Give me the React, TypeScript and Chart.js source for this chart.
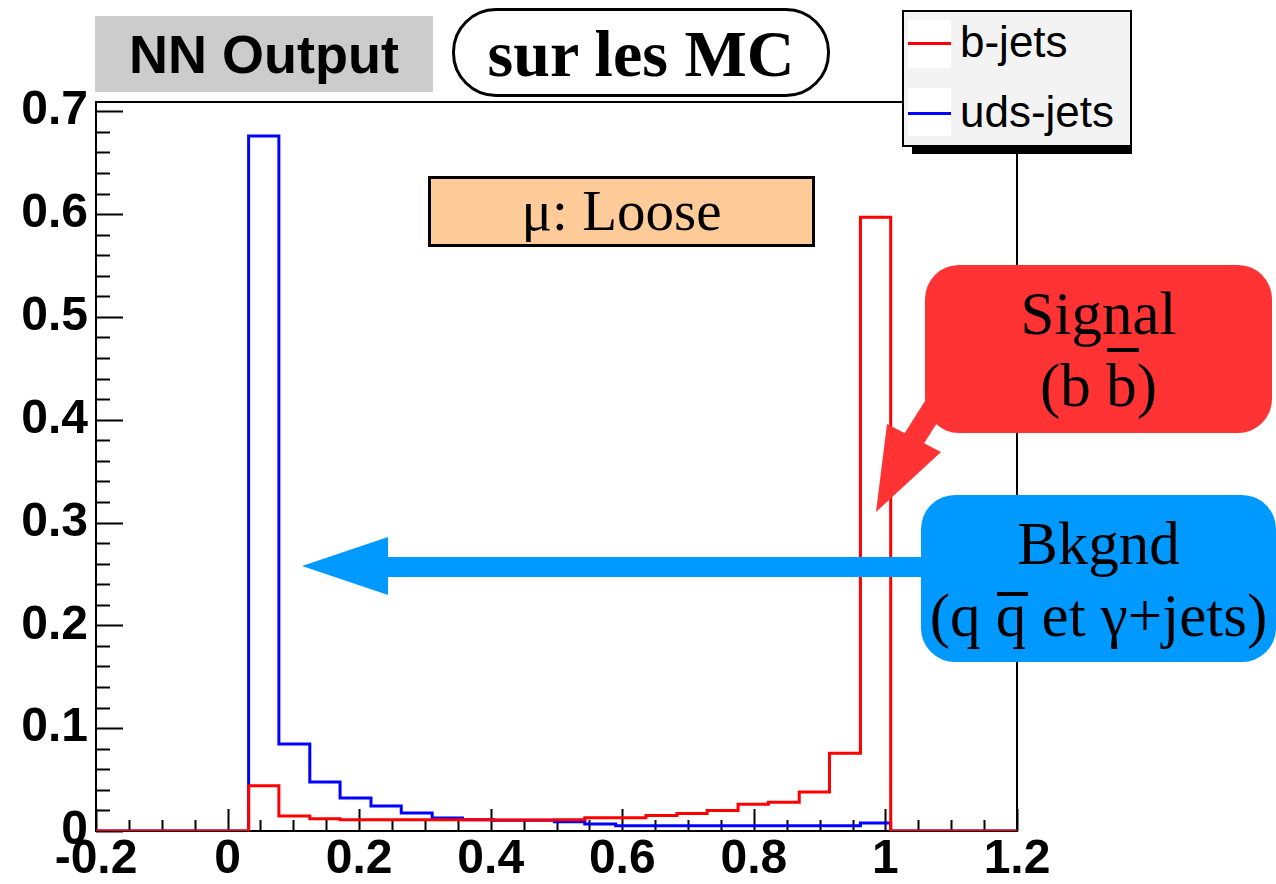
import React, { useEffect, useRef } from 'react';
import { Chart, registerables } from 'chart.js';

Chart.register(...registerables);

// Histogram bin edges (NN output)
const BIN_EDGES = [
  0.032, 0.078, 0.125, 0.171, 0.218, 0.264, 0.311, 0.357, 0.404, 0.45, 0.497,
  0.543, 0.59, 0.636, 0.683, 0.729, 0.776, 0.822, 0.869, 0.915, 0.962, 1.008,
];

// Normalised bin contents
const B_JETS = [
  0.044, 0.0146, 0.012, 0.011, 0.011, 0.011, 0.011, 0.011, 0.0108, 0.0108, 0.011,
  0.013, 0.013, 0.015, 0.017, 0.02, 0.026, 0.028, 0.038, 0.0757, 0.597,
];
const UDS_JETS = [
  0.676, 0.0845, 0.0476, 0.032, 0.0243, 0.0175, 0.0126, 0.011, 0.0105, 0.0105, 0.009,
  0.0068, 0.005, 0.005, 0.005, 0.005, 0.005, 0.005, 0.005, 0.005, 0.0078,
];

const X_MIN = -0.2;
const X_MAX = 1.2;
const Y_MIN = 0;
const Y_MAX = 0.709;

const X_LABELS = [-0.2, 0, 0.2, 0.4, 0.6, 0.8, 1, 1.2];
const Y_LABELS = [0, 0.1, 0.2, 0.3, 0.4, 0.5, 0.6, 0.7];

const X_MINOR_STEP = 0.05;
const Y_MINOR_STEP = 0.02;

const fmt = (v: number) => String(Math.round(v * 10) / 10);

// Step outline: zero up to the first edge, each bin spanning [edge i, edge i+1], back to zero after.
// Points sit on the right edge of each bin; 'before' stepping draws the previous level up to the point.
function stepPoints(values: number[]) {
  const pts: { x: number; y: number }[] = [{ x: X_MIN, y: 0 }, { x: BIN_EDGES[0], y: 0 }];
  values.forEach((v, i) => pts.push({ x: BIN_EDGES[i], y: v }));
  pts.push({ x: BIN_EDGES[BIN_EDGES.length - 1], y: values[values.length - 1] });
  pts.push({ x: BIN_EDGES[BIN_EDGES.length - 1], y: 0 });
  pts.push({ x: X_MAX, y: 0 });
  return pts;
}

// Frame box and inward-pointing ticks, drawn under the histograms.
const frameTicks = {
  id: 'frameTicks',
  beforeDatasetsDraw(chart: any) {
    const { ctx, chartArea: a, scales } = chart;
    const x = scales.x;
    const y = scales.y;
    ctx.save();
    ctx.strokeStyle = '#000';
    ctx.lineWidth = 2;
    ctx.strokeRect(a.left, a.top, a.right - a.left, a.bottom - a.top);

    ctx.beginPath();
    const nx = Math.round((X_MAX - X_MIN) / X_MINOR_STEP);
    for (let i = 0; i <= nx; i++) {
      const v = X_MIN + i * X_MINOR_STEP;
      const px = Math.round(x.getPixelForValue(v)) + 0.5;
      const major = i % 4 === 0;
      ctx.moveTo(px, a.bottom);
      ctx.lineTo(px, a.bottom - (major ? 22 : 11));
    }
    const ny = Math.round((0.7 - Y_MIN) / Y_MINOR_STEP);
    for (let i = 0; i <= ny; i++) {
      const v = Y_MIN + i * Y_MINOR_STEP;
      const py = Math.round(y.getPixelForValue(v)) + 0.5;
      const major = i % 5 === 0;
      ctx.moveTo(a.left, py);
      ctx.lineTo(a.left + (major ? 27 : 14), py);
    }
    ctx.stroke();
    ctx.restore();
  },
};

const SANS = '"Liberation Sans", Arial, Helvetica, sans-serif';
const SERIF = '"Liberation Serif", "Times New Roman", serif';

const abs = (s: React.CSSProperties): React.CSSProperties => ({ position: 'absolute', boxSizing: 'border-box', ...s });

// A letter with a bar over it (antiparticle notation).
function Bar({ children, offset }: { children: React.ReactNode; offset: number }) {
  return (
    <span style={{ position: 'relative' }}>
      {children}
      <span style={{ position: 'absolute', left: 1, right: -2, top: offset, height: 4, background: '#000' }} />
    </span>
  );
}

export default function App() {
  const canvasRef = useRef<HTMLCanvasElement | null>(null);

  useEffect(() => {
    const canvas = canvasRef.current;
    if (!canvas) return;
    const tickFont = { family: SANS, weight: 'bold' as const, size: 48 };
    const chart = new Chart(canvas, {
      type: 'line',
      data: {
        datasets: [
          {
            label: 'b-jets',
            data: stepPoints(B_JETS),
            borderColor: '#ff0000',
            borderWidth: 3,
            stepped: 'before',
            pointRadius: 0,
            fill: false,
            order: 0,
          },
          {
            label: 'uds-jets',
            data: stepPoints(UDS_JETS),
            borderColor: '#0000ff',
            borderWidth: 3,
            stepped: 'before',
            pointRadius: 0,
            fill: false,
            order: 1,
          },
        ],
      },
      options: {
        animation: false,
        responsive: false,
        layout: { padding: { left: 0, top: 102, right: 259, bottom: 0 } },
        plugins: { legend: { display: false }, tooltip: { enabled: false } },
        scales: {
          x: {
            type: 'linear',
            min: X_MIN,
            max: X_MAX,
            afterBuildTicks: (s: any) => {
              s.ticks = X_LABELS.map((v) => ({ value: v }));
            },
            afterFit: (s: any) => {
              s.height = 53;
            },
            ticks: {
              font: tickFont,
              color: '#000',
              padding: 0,
              maxRotation: 0,
              autoSkip: false,
              callback: (v: any) => fmt(Number(v)),
            },
            grid: { display: false, drawTicks: false },
            border: { display: false },
          },
          y: {
            type: 'linear',
            min: Y_MIN,
            max: Y_MAX,
            afterBuildTicks: (s: any) => {
              s.ticks = Y_LABELS.map((v) => ({ value: v }));
            },
            afterFit: (s: any) => {
              s.width = 96;
            },
            ticks: {
              font: tickFont,
              color: '#000',
              padding: 8,
              autoSkip: false,
              callback: (v: any) => fmt(Number(v)),
            },
            grid: { display: false, drawTicks: false },
            border: { display: false },
          },
        },
      },
      plugins: [frameTicks],
    });
    return () => chart.destroy();
  }, []);

  return (
    <div style={abs({ left: 0, top: 0, width: 1276, height: 884, background: '#fff', overflow: 'hidden' })}>
      <canvas ref={canvasRef} width={1276} height={884} style={{ position: 'absolute', left: 0, top: 0, width: 1276, height: 884 }} />

      {/* Title pads */}
      <div
        style={abs({
          left: 95, top: 16, width: 338, height: 76, background: '#cccccc',
          font: `bold 54px ${SANS}`, lineHeight: '76px', textAlign: 'center', color: '#000', whiteSpace: 'nowrap',
        })}
      >
        NN Output
      </div>
      <div
        style={abs({
          left: 452, top: 8, width: 378, height: 89, background: '#fff', border: '3px solid #000', borderRadius: 44,
          font: `bold 66px ${SERIF}`, lineHeight: '86px', textAlign: 'center', color: '#000', whiteSpace: 'nowrap',
        })}
      >
        sur les MC
      </div>

      {/* Legend */}
      <div style={abs({ left: 912, top: 147, width: 220, height: 7, background: '#000' })} />
      <div style={abs({ left: 902, top: 10, width: 230, height: 137, background: '#f3f3f3', border: '2px solid #000' })} />
      <div style={abs({ left: 908, top: 20, width: 43, height: 48, background: '#fff' })} />
      <div style={abs({ left: 908, top: 88, width: 43, height: 48, background: '#fff' })} />
      <div style={abs({ left: 908, top: 42, width: 43, height: 3, background: '#ff0000' })} />
      <div style={abs({ left: 908, top: 112, width: 43, height: 3, background: '#0000ff' })} />
      <div style={abs({ left: 960, top: 17, font: `44px ${SANS}`, lineHeight: '50px', color: '#000', whiteSpace: 'nowrap' })}>b-jets</div>
      <div style={abs({ left: 960, top: 87, font: `44px ${SANS}`, lineHeight: '50px', color: '#000', whiteSpace: 'nowrap' })}>uds-jets</div>

      {/* Selection label */}
      <div
        style={abs({
          left: 428, top: 176, width: 387, height: 71, background: '#ffcc99', border: '3px solid #000',
          font: `57px ${SERIF}`, lineHeight: '63px', textAlign: 'center', color: '#000', whiteSpace: 'nowrap',
        })}
      >
        μ: Loose
      </div>

      {/* Arrows */}
      <svg width={1276} height={884} style={{ position: 'absolute', left: 0, top: 0 }}>
        <line x1={960} y1={366} x2={912} y2={442} stroke="#ff3333" strokeWidth={22} />
        <polygon points="876,512 887,424 941,452" fill="#ff3333" />
        <rect x={380} y={557} width={560} height={20} fill="#0099ff" />
        <polygon points="302,566 388,537 388,595" fill="#0099ff" />
      </svg>

      {/* Signal call-out */}
      <div style={abs({ left: 925, top: 265, width: 347, height: 168, background: '#ff3333', borderRadius: 34 })}>
        <div style={abs({ left: 0, top: 13, width: 347, font: `61px ${SERIF}`, lineHeight: '72px', textAlign: 'center', color: '#000', whiteSpace: 'nowrap' })}>
          Signal
        </div>
        <div style={abs({ left: 0, top: 85, width: 347, font: `61px ${SERIF}`, lineHeight: '72px', textAlign: 'center', color: '#000', whiteSpace: 'nowrap' })}>
          (b <Bar offset={-4}>b</Bar>)
        </div>
      </div>

      {/* Background call-out */}
      <div style={abs({ left: 921, top: 495, width: 355, height: 167, background: '#0099ff', borderRadius: 34 })}>
        <div style={abs({ left: 0, top: 13, width: 355, font: `61px ${SERIF}`, lineHeight: '72px', textAlign: 'center', color: '#000', whiteSpace: 'nowrap' })}>
          Bkgnd
        </div>
        <div style={abs({ left: 0, top: 85, width: 355, font: `61px ${SERIF}`, lineHeight: '72px', textAlign: 'center', color: '#000', whiteSpace: 'nowrap' })}>
          (q <Bar offset={10}>q</Bar> et γ+jets)
        </div>
      </div>
    </div>
  );
}
